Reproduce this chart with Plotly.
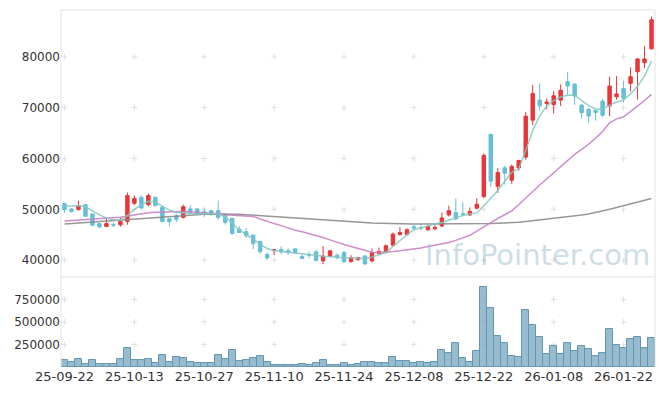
import plotly.graph_objects as go

dates = [
    "25-09-22", "25-09-23", "25-09-24", "25-09-25", "25-09-26",
    "25-09-29", "25-09-30", "25-10-01", "25-10-02", "25-10-10",
    "25-10-13", "25-10-14", "25-10-15", "25-10-16", "25-10-17",
    "25-10-20", "25-10-21", "25-10-22", "25-10-23", "25-10-24",
    "25-10-27", "25-10-28", "25-10-29", "25-10-30", "25-10-31",
    "25-11-03", "25-11-04", "25-11-05", "25-11-06", "25-11-07",
    "25-11-10", "25-11-11", "25-11-12", "25-11-13", "25-11-14",
    "25-11-17", "25-11-18", "25-11-19", "25-11-20", "25-11-21",
    "25-11-24", "25-11-25", "25-11-26", "25-11-27", "25-11-28",
    "25-12-01", "25-12-02", "25-12-03", "25-12-04", "25-12-05",
    "25-12-08", "25-12-09", "25-12-10", "25-12-11", "25-12-12",
    "25-12-15", "25-12-16", "25-12-17", "25-12-18", "25-12-19",
    "25-12-22", "25-12-23", "25-12-24", "25-12-26",
    "25-12-29", "25-12-30", "26-01-02",
    "26-01-05", "26-01-06", "26-01-07", "26-01-08", "26-01-09",
    "26-01-12", "26-01-13", "26-01-14", "26-01-15", "26-01-16",
    "26-01-19", "26-01-20", "26-01-21", "26-01-22", "26-01-23",
    "26-01-26", "26-01-27", "26-01-28",
]

open_ = [51100, 50080, 49950, 50930, 49090, 47200, 46640, 47000, 46970, 47630,
         51180, 52370, 50930, 52370, 50390, 48150, 48700, 48420, 50080, 50080,
         49540, 49740, 49740, 49090, 48220, 46120, 45590, 44940, 43700, 41150,
         41900, 42100, 41870, 42230, 40710, 41050, 41640, 39860, 40780, 40990,
         41500, 39760, 40130, 40850, 39860, 41300, 41500, 42960, 45060, 45060,
         46600, 46350, 45990, 46180, 46720, 48890, 49350, 49150, 48890, 50230,
         52510, 64760, 54540, 58180, 55740, 58140, 60270, 67530, 71480, 70800,
         70600, 71480, 75100, 74640, 70490, 69700, 69500, 71280, 70350, 72130,
         73770, 74780, 77070, 78850, 81560]
high = [51300, 50200, 51700, 51000, 49150, 47300, 48100, 47400, 48420, 53340,
        52700, 52765, 53160, 52500, 50730, 48200, 49090, 50930, 50870, 50200,
        50200, 49800, 51720, 49100, 48250, 46700, 46300, 45000, 43750, 41500,
        42100, 42700, 42400, 42300, 41300, 41700, 42100, 42760, 42000, 41350,
        41900, 41000, 40650, 40900, 42290, 42490, 43100, 45450, 46520, 46300,
        47000, 47000, 47000, 47050, 49410, 50730, 52110, 51380, 50390, 52170,
        61000, 64800, 58080, 58630, 58830, 59700, 69170, 74440, 74780, 71810,
        73300, 74580, 77000, 74700, 70700, 69800, 69600, 71800, 76080, 76220,
        75300, 77900, 79700, 82080, 87940]
low = [49350, 49350, 49750, 48550, 46600, 46320, 46580, 46450, 46580, 46970,
       50800, 50000, 50530, 50600, 47430, 46640, 47430, 48220, 49090, 48900,
       48500, 48700, 47960, 47000, 45000, 45400, 44400, 42170, 41200, 40060,
       40990, 41250, 41050, 41300, 40250, 40400, 39850, 39210, 40600, 40150,
       39600, 39500, 39850, 39100, 39530, 41200, 41400, 42900, 44800, 44800,
       45900, 45900, 45800, 45900, 46500, 48600, 47900, 48700, 48700, 49990,
       52170, 54400, 53240, 54880, 55020, 57600, 59760, 66540, 69360, 69700,
       68850, 70300, 72470, 70560, 67860, 67030, 67430, 68100, 68340, 71550,
       71000, 73180, 71550, 77740, 81500]
close = [49950, 49600, 50730, 48650, 46900, 46550, 47200, 46900, 47630, 52700,
         52150, 50280, 52700, 50730, 47600, 47600, 48050, 50530, 49290, 49090,
         49010, 49090, 48420, 47430, 45260, 45450, 44800, 43280, 41700, 40450,
         42050, 41600, 41480, 41440, 40320, 40990, 39930, 40820, 41840, 40510,
         39690, 40510, 40500, 39270, 41500, 41700, 42830, 45140, 45450, 45990,
         46300, 46300, 46640, 46440, 48300, 49740, 48100, 49050, 49600, 51000,
         60610, 55530, 57250, 57110, 58440, 59620, 68320, 72800, 70350, 71100,
         72330, 73420, 74240, 72300, 69010, 68350, 69050, 68510, 74240, 72700,
         71850, 76080, 79580, 79580, 87290]

volume = [81000, 59000, 88000, 37000, 81000, 33000, 33000, 33000, 88000, 209000,
          81000, 81000, 88000, 44000, 132000, 55000, 110000, 99000, 59000, 44000,
          44000, 44000, 132000, 88000, 187000, 70000, 81000, 99000, 121000, 55000,
          22000, 22000, 22000, 22000, 33000, 22000, 44000, 77000, 22000, 22000,
          40000, 22000, 33000, 55000, 55000, 40000, 40000, 110000, 66000, 66000,
          40000, 55000, 44000, 55000, 187000, 154000, 264000, 99000, 55000, 176000,
          892000, 650000, 341000, 264000, 121000, 110000, 628000, 463000, 330000, 143000,
          231000, 143000, 264000, 176000, 231000, 198000, 121000, 154000, 418000, 242000,
          209000, 308000, 330000, 209000, 319000]

ma_short = [50600, 50600, 50700, 50500, 49700, 48900, 48300, 47950, 47900, 48800,
            50000, 50900, 51600, 51500, 50600, 49900, 49400, 49300, 49100, 49100,
            49200, 49200, 49100, 48500, 47300, 46000, 45000, 44200, 43100, 42300,
            41900, 41700, 41550, 41400, 41250, 41150, 40950, 40800, 40650, 40550,
            40500, 40450, 40400, 40300, 40600, 41000, 41500, 42700, 43900, 45000,
            46000, 46400, 46800, 47100, 47400, 47900, 48400, 48800, 49100, 49300,
            50700, 52200, 53700, 55500, 57300, 58000, 61500, 65500, 68400, 70300,
            71400, 72100, 72450, 72450, 71400, 70400, 69800, 69700, 70500, 71100,
            71500, 72700, 74200, 76200, 79200]
ma_mid = [47700, 47800, 47950, 48050, 48150, 48200, 48300, 48350, 48450, 48700,
          48950, 49150, 49350, 49450, 49500, 49550, 49600, 49600, 49550, 49450,
          49350, 49300, 49150, 48950, 48850, 48750, 48700, 48600, 48100, 47600,
          47200, 46800, 46300, 45900, 45600, 45250, 44850, 44450, 44000, 43500,
          43100, 42700, 42300, 41800, 41550, 41500, 41550, 41700, 41850, 42000,
          42150, 42400, 42700, 42950, 43200, 43500, 43900, 44400, 44900, 45700,
          46600, 47400, 48200, 48900, 49700, 50900, 52300, 53500, 54800, 56000,
          57300, 58500, 59600, 60800, 61800, 62800, 64000, 65300, 67000, 67800,
          68200, 69200, 70300, 71400, 72600]
ma_long = [47100, 47200, 47300, 47400, 47500, 47600, 47700, 47800, 47900, 48000,
           48100, 48250, 48400, 48500, 48600, 48700, 48800, 48900, 48950, 49000,
           49050, 49100, 49100, 49100, 49100, 49050, 48950, 48850, 48750, 48650,
           48600, 48500, 48400, 48300, 48200, 48100, 48000, 47900, 47800, 47650,
           47550, 47500, 47400, 47350, 47300, 47250, 47200, 47200, 47150, 47150,
           47100, 47100, 47100, 47100, 47100, 47100, 47100, 47100, 47100, 47150,
           47150, 47200, 47250, 47300, 47350, 47450, 47600, 47750, 47900, 48100,
           48250, 48400, 48550, 48700, 48900, 49100, 49350, 49650, 50000, 50350,
           50700, 51000, 51400, 51800, 52150]

x_ticks = ["25-09-22", "25-10-13", "25-10-27", "25-11-10", "25-11-24",
           "25-12-08", "25-12-22", "26-01-08", "26-01-22"]
price_ticks = [40000, 50000, 60000, 70000, 80000]
volume_ticks = [250000, 500000, 750000]

RED = "#E8363A"
BLUE = "#66BED8"
FONT = "DejaVu Sans"
CROSS = "#e0e0e0"
BORDER = "#e3e3e3"

PRICE_RANGE = [36900, 89200]
VOL_RANGE = [0, 1000000]
VOL_TOP = 0.252
PRICE_BOT = 0.255

fig = go.Figure()

fig.add_trace(go.Candlestick(
    x=dates, open=open_, high=high, low=low, close=close,
    xaxis="x2", yaxis="y2",
    increasing=dict(line=dict(color=RED, width=1), fillcolor=RED),
    decreasing=dict(line=dict(color=BLUE, width=1), fillcolor=BLUE),
    whiskerwidth=0, showlegend=False))

fig.add_trace(go.Scatter(x=dates, y=ma_long, mode="lines", xaxis="x2", yaxis="y2",
                         line=dict(color="rgba(140,140,140,0.9)", width=1.5),
                         showlegend=False))
fig.add_trace(go.Scatter(x=dates, y=ma_mid, mode="lines", xaxis="x2", yaxis="y2",
                         line=dict(color="rgba(200,130,195,0.9)", width=1.5),
                         showlegend=False))
fig.add_trace(go.Scatter(x=dates, y=ma_short, mode="lines", xaxis="x2", yaxis="y2",
                         line=dict(color="rgba(130,200,190,0.85)", width=1.5),
                         showlegend=False))

fig.add_trace(go.Bar(x=dates, y=volume, xaxis="x", yaxis="y",
                     marker=dict(color="rgba(125,170,195,0.8)",
                                 line=dict(color="rgba(100,150,175,1)", width=1)),
                     showlegend=False))

# small "+" grid marks at tick intersections, drawn below the data
shapes = []
def add_cross(xcat, yval, xref, yref, yrng, frac_h):
    xi = dates.index(xcat)
    dy = (yrng[1] - yrng[0]) * frac_h
    shapes.append(dict(type="line", xref=xref, yref=yref, layer="below",
                       x0=xi - 0.4, x1=xi + 0.4, y0=yval, y1=yval,
                       line=dict(color=CROSS, width=1)))
    shapes.append(dict(type="line", xref=xref, yref=yref, layer="below",
                       x0=xi, x1=xi, y0=yval - dy, y1=yval + dy,
                       line=dict(color=CROSS, width=1)))

for t in x_ticks:
    for v in price_ticks:
        add_cross(t, v, "x2", "y2", PRICE_RANGE, 3 / 266)
    for v in volume_ticks:
        add_cross(t, v, "x", "y", VOL_RANGE, 3 / 90)

shapes += [
    dict(type="line", xref="paper", yref="paper", x0=0, x1=0, y0=0, y1=1,
         line=dict(color=BORDER, width=1)),
    dict(type="line", xref="paper", yref="paper", x0=1, x1=1, y0=0, y1=1,
         line=dict(color=BORDER, width=1)),
    dict(type="line", xref="paper", yref="paper", x0=0, x1=1, y0=1, y1=1,
         line=dict(color=BORDER, width=1)),
    dict(type="line", xref="paper", yref="paper", x0=0, x1=1,
         y0=VOL_TOP, y1=VOL_TOP, line=dict(color=BORDER, width=1)),
]

fig.update_layout(
    width=665, height=396,
    margin=dict(l=61, r=10, t=10, b=29),
    paper_bgcolor="white", plot_bgcolor="white",
    bargap=0,
    font=dict(family=FONT, size=12, color="#333"),
    xaxis=dict(domain=[0, 1], anchor="y", type="category",
               categoryorder="array", categoryarray=dates,
               range=[-0.5, len(dates) - 0.5],
               tickmode="array", tickvals=x_ticks, ticktext=x_ticks,
               showgrid=False, zeroline=False, showline=False, ticks="",
               automargin=False,
               tickfont=dict(family=FONT, size=13, color="#333")),
    xaxis2=dict(domain=[0, 1], anchor="y2", type="category", matches="x",
                categoryorder="array", categoryarray=dates,
                range=[-0.5, len(dates) - 0.5],
                showticklabels=False, showgrid=False, zeroline=False,
                rangeslider=dict(visible=False)),
    yaxis=dict(domain=[0, VOL_TOP], range=VOL_RANGE,
               tickmode="array", tickvals=volume_ticks,
               ticktext=[str(v) for v in volume_ticks],
               showgrid=False, zeroline=False, ticks="", automargin=False,
               tickfont=dict(family=FONT, size=12, color="#333")),
    yaxis2=dict(domain=[PRICE_BOT, 1], range=PRICE_RANGE,
                tickmode="array", tickvals=price_ticks,
                ticktext=[str(v) for v in price_ticks],
                showgrid=False, zeroline=False, ticks="", automargin=False,
                tickfont=dict(family=FONT, size=12, color="#333")),
    shapes=shapes,
    annotations=[
        dict(text="InfoPointer.com", xref="paper", yref="paper",
             x=0.995, y=PRICE_BOT + 0.005, xanchor="right", yanchor="bottom",
             showarrow=False,
             font=dict(family=FONT, size=29, color="rgba(155,188,205,0.5)")),
    ],
)

fig.write_html("out.html", config={"displayModeBar": False},
               post_script="document.body.style.margin='0px';document.body.style.padding='0px';")
